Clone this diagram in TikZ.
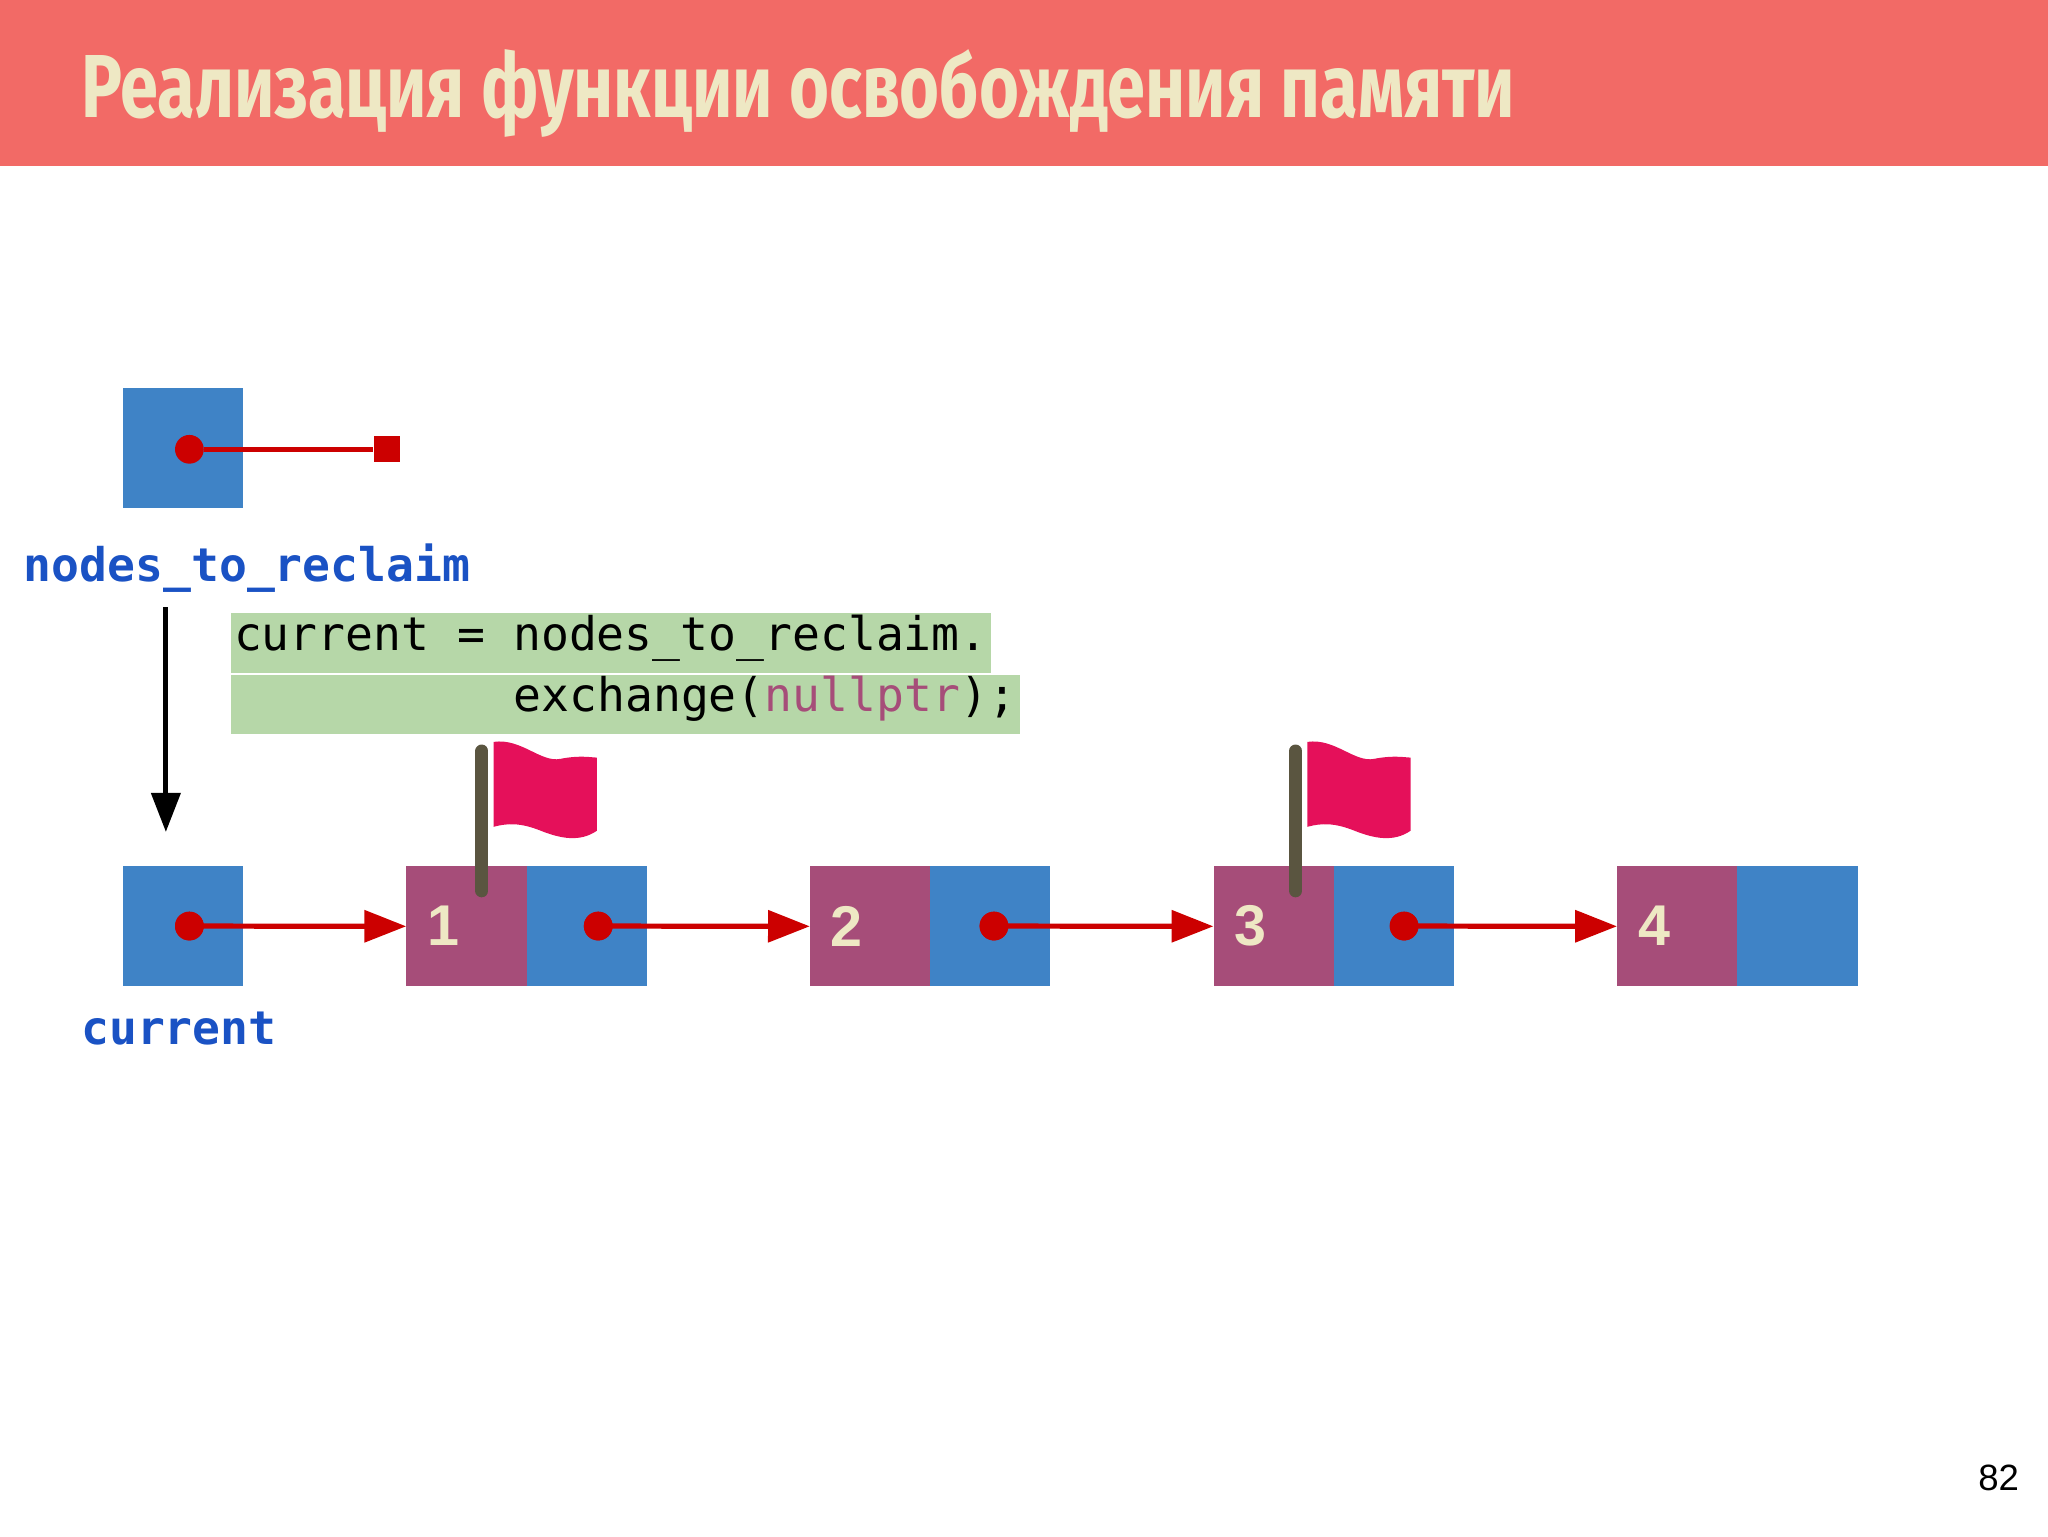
\documentclass[tikz,border=0pt]{standalone}
\usepackage{fontspec}
\usepackage{graphicx}
\setmainfont{Liberation Sans}
\newfontfamily\titlefont{Fira Sans}
\newfontfamily\codefont{DejaVu Sans Mono}
\usetikzlibrary{arrows.meta}
\definecolor{titlered}{HTML}{F26A66}
\definecolor{cream}{HTML}{EEE8C4}
\definecolor{boxblue}{HTML}{3F83C6}
\definecolor{boxpurple}{HTML}{A64D79}
\definecolor{ptrred}{HTML}{CC0000}
\definecolor{codegreen}{HTML}{B6D7A8}
\definecolor{lblblue}{HTML}{1A52C4}
\definecolor{flagpink}{HTML}{E5105A}
\definecolor{pole}{HTML}{5A5540}
\tikzset{
  bluebox/.style={fill=boxblue,draw=none,minimum width=92pt,minimum height=92pt,inner sep=0pt},
  purplebox/.style={fill=boxpurple,draw=none,minimum width=92pt,minimum height=92pt,inner sep=0pt,
     font=\fontsize{44}{44}\selectfont\bfseries,text=cream},
  ptr/.style={ptrred,line width=4pt,-{Triangle[length=32pt,width=24pt]}},
  dot/.style={circle,fill=ptrred,minimum size=22pt,inner sep=0pt},
  codebg/.style={fill=codegreen,draw=none,anchor=north west,inner sep=0pt},
  code/.style={font=\codefont\fontsize{35.5}{36}\selectfont,anchor=base west,inner sep=0pt},
  lbl/.style={font=\codefont\bfseries\fontsize{35.5}{36}\selectfont,text=lblblue,anchor=base west,inner sep=0pt},
}
\begin{document}
\begin{tikzpicture}[x=1pt,y=-1pt]
\useasboundingbox (0,0) rectangle (1568,1176);
\fill[titlered] (0,0) rectangle (1568,127);
\node[anchor=base west,inner sep=0pt,text=cream] (title) at (62,90)
  {\resizebox{1098pt}{52pt}{\titlefont\bfseries Реализация функции освобождения памяти}};

% nodes_to_reclaim
\node[bluebox,anchor=north west] (ntr) at (94,297) {};
\node[dot] (ntrdot) at (145,344) {};
\node[fill=ptrred,minimum size=20pt,inner sep=0pt] (ntrend) at (296,344) {};
\draw[ptrred,line width=4pt] (ntrdot) -- (ntrend);
\node[lbl] (ntrlbl) at (18,445) {nodes\_to\_reclaim};

% code
\fill[codegreen] (177,469) rectangle (759,515);
\fill[codegreen] (177,517) rectangle (781,562);
\node[code] (c1) at (179,498) {current = nodes\_to\_reclaim.};
\node[code] (c2) at (393,545) {exchange(\textcolor{boxpurple}{nullptr});};

% black arrow
\coordinate (bs) at (127,465);
\coordinate (be) at (127,637);
\draw[line width=4pt,-{Triangle[length=30pt,width=22pt]}] (bs) -- (be);

% current
\node[bluebox,anchor=north west] (cur) at (94,663) {};
\node[lbl] (curlbl) at (62,800) {current};

% list nodes
\foreach \i/\x in {1/311,2/620,3/929,4/1238}{
  \node[purplebox,anchor=north west] (p\i) at (\x,663) {};
  \node[anchor=west,inner sep=0pt,font=\fontsize{44}{44}\selectfont\bfseries,text=cream] (t\i) at (\x+16,709) {\i};
  \node[bluebox,anchor=north west] (b\i) at (\x+92,663) {};
}
\node[dot] (d0) at (145,709) {};
\node[dot] (d1) at (458,709) {};
\node[dot] (d2) at (761,709) {};
\node[dot] (d3) at (1075,709) {};
\draw[ptr] (d0.center) -- (p1.west);
\draw[ptr] (d1.center) -- (p2.west);
\draw[ptr] (d2.center) -- (p3.west);
\draw[ptr] (d3.center) -- (p4.west);
\fill[ptrred] (145,709) circle (11pt) (458,709) circle (11pt) (761,709) circle (11pt) (1075,709) circle (11pt);

% flags
\foreach \px in {369,992}{
  \fill[flagpink] (\px+9,568) .. controls (\px+30,565) and (\px+45,584) .. (\px+60,581)
     .. controls (\px+75,578) and (\px+84,580) .. (\px+88,580)
     -- (\px+88,636) .. controls (\px+75,645) and (\px+60,642) .. (\px+45,636)
     .. controls (\px+30,630) and (\px+20,630) .. (\px+9,633) -- cycle;
  \draw[pole,line width=10pt,line cap=round] (\px,575) -- (\px,682);
}

\node[anchor=base east,inner sep=0pt,font=\fontsize{28}{28}\selectfont] (pg) at (1546,1141) {82};
\end{tikzpicture}
\end{document}
